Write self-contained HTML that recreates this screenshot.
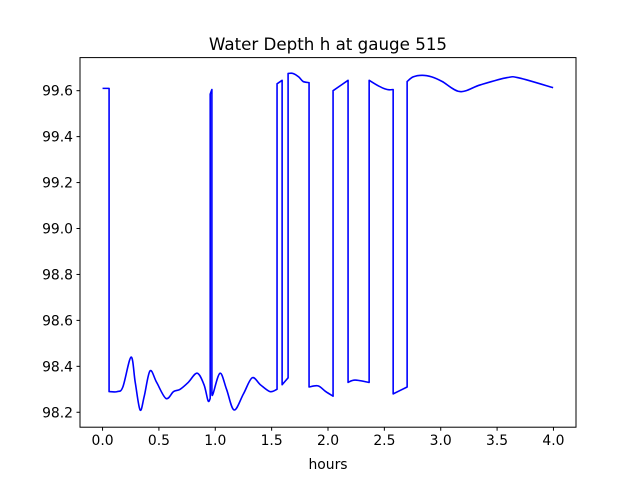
<!DOCTYPE html>
<html><head><meta charset="utf-8"><style>
body{margin:0;background:#fff;}
svg{display:block;font-family:"DejaVu Sans","Liberation Sans",sans-serif;}
</style></head><body>
<svg id="chart" width="640" height="480">
<rect width="640" height="480" fill="#fff"/>
<text x="328" y="50" text-anchor="middle" font-size="16.7">Water Depth h at gauge 515</text>
<text x="328" y="469" text-anchor="middle" font-size="13.9">hours</text>
<g id="ticks"></g>
<path id="line" fill="none" stroke="#0000ff" stroke-width="1.6" stroke-linejoin="round"/>
<rect x="80" y="57.6" width="496" height="369.6" fill="none" stroke="#000" stroke-width="1"/>
</svg>
<script>
const xTicks = [0.0, 0.5, 1.0, 1.5, 2.0, 2.5, 3.0, 3.5, 4.0];
const yTicks = [98.2, 98.4, 98.6, 98.8, 99.0, 99.2, 99.4, 99.6];
const hours = [0,0.058,0.058,0.13,0.18,0.253,0.29,0.333,0.37,0.421,0.48,0.563,0.63,0.688,0.76,0.839,0.90,0.936,0.955,0.955,0.97,0.97,0.98,1.042,1.10,1.167,1.25,1.327,1.40,1.486,1.548,1.548,1.593,1.593,1.646,1.646,1.69,1.74,1.779,1.832,1.832,1.912,1.98,2.045,2.045,2.178,2.178,2.24,2.365,2.365,2.45,2.525,2.578,2.578,2.702,2.702,2.755,2.835,2.92,3.013,3.172,3.35,3.59,3.7,3.997];
const depth = [99.61,99.61,98.29,98.29,98.31,98.44,98.33,98.21,98.27,98.38,98.33,98.26,98.29,98.30,98.33,98.37,98.32,98.25,98.26,99.585,99.605,98.28,98.28,98.37,98.30,98.21,98.28,98.35,98.32,98.29,98.30,99.63,99.645,98.32,98.35,99.675,99.675,99.66,99.64,99.635,98.31,98.315,98.29,98.27,99.60,99.645,98.33,98.34,98.33,99.645,99.62,99.605,99.605,98.28,98.31,99.64,99.66,99.667,99.66,99.64,99.596,99.625,99.657,99.655,99.613];
const X0=80,X1=576,Y0=57.6,Y1=427.2,xmin=-0.2,xmax=4.2,ymin=98.135,ymax=99.744;
function sx(v){return X0+(v-xmin)/(xmax-xmin)*(X1-X0);}
function sy(v){return Y1-(v-ymin)/(ymax-ymin)*(Y1-Y0);}
const NS='http://www.w3.org/2000/svg';
const g=document.getElementById('ticks');
function mk(tag,attrs){const e=document.createElementNS(NS,tag);for(const k in attrs)e.setAttribute(k,attrs[k]);g.appendChild(e);return e;}
xTicks.forEach(t=>{
  const l=mk('line',{x1:sx(t),x2:sx(t),y1:Y1,y2:Y1+3.5,stroke:'#000'});
  
  
  const tx=mk('text',{x:sx(t),y:Y1+18,'text-anchor':'middle','font-size':'13.9'});
  tx.textContent=t.toFixed(1);
  
  
});
yTicks.forEach(t=>{
  const l=mk('line',{x1:X0-3.5,x2:X0,y1:sy(t),y2:sy(t),stroke:'#000'});
  
  
  const tx=mk('text',{x:X0-7,y:sy(t)+5,'text-anchor':'end','font-size':'13.9'});
  tx.textContent=t.toFixed(1);
  
  
});
// split into runs at vertical jumps; Catmull-Rom within runs
const pts=hours.map((h,i)=>[sx(h),sy(depth[i])]);
let runs=[],cur=[pts[0]];
for(let i=1;i<pts.length;i++){
  if(hours[i]<=hours[i-1]){runs.push(cur);cur=[pts[i]];}else cur.push(pts[i]);
}
runs.push(cur);
let d='';
runs.forEach((r,ri)=>{
  d+=(ri===0?'M':'L')+r[0][0].toFixed(2)+','+r[0][1].toFixed(2);
  for(let i=0;i<r.length-1;i++){
    const p0=r[i-1]||r[i],p1=r[i],p2=r[i+1],p3=r[i+2]||r[i+1];
    const c1=[p1[0]+(p2[0]-p0[0])/6,p1[1]+(p2[1]-p0[1])/6];
    const c2=[p2[0]-(p3[0]-p1[0])/6,p2[1]-(p3[1]-p1[1])/6];
    d+='C'+c1.join(',')+' '+c2.join(',')+' '+p2.join(',');
  }
});
document.getElementById('line').setAttribute('d',d);
</script>
</body></html>
